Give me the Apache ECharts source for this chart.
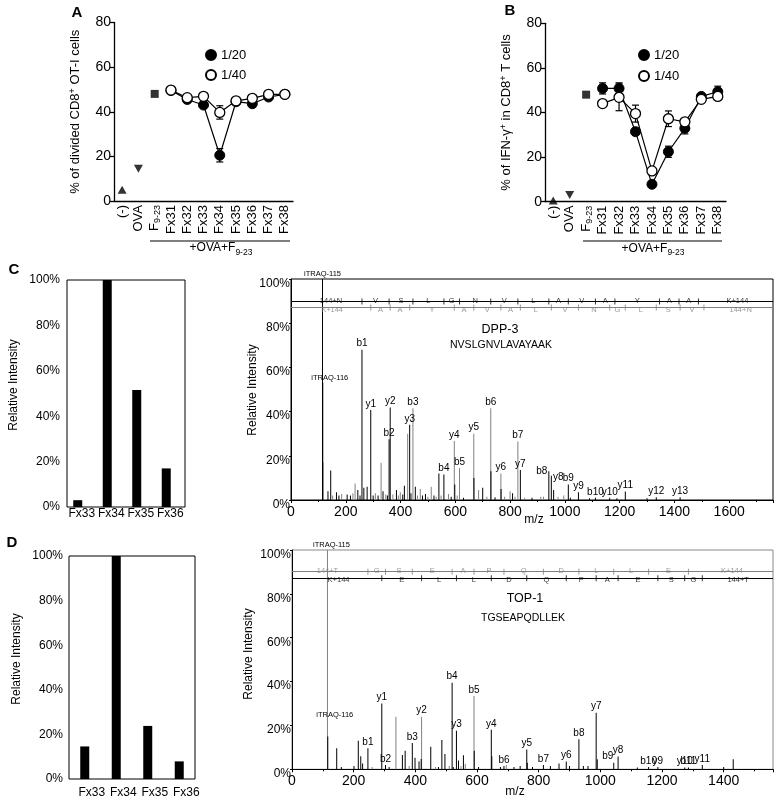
<!DOCTYPE html>
<html><head><meta charset="utf-8">
<script src="https://cdn.jsdelivr.net/npm/echarts@6/dist/echarts.min.js"></script>
<style>html,body{margin:0;padding:0;background:#fff}#c{width:778px;height:805px}</style>
</head><body><div id="c"></div>
<script>
const FONT = '"Liberation Sans", Arial, Helvetica, sans-serif';

// ---------------- Panels A & B data ----------------
const catsAB = ['(-)','OVA','F9-23','Fx31','Fx32','Fx33','Fx34','Fx35','Fx36','Fx37','Fx38'];
const aControls = [5, 14.5, 48];            // (-), OVA, F9-23
const a120    = [null,null,null,49.5,45.5,43.0,20.5,44.5,43.6,46.6,47.8];
const a120Err = [0,0,0,0.8,1.5,0.8,3.0,0.8,0.8,1.2,0.8];
const a140    = [null,null,null,49.7,46.3,46.9,39.7,44.9,46.0,47.8,47.8];
const a140Err = [0,0,0,0.5,0.8,0.5,3.0,0.5,0.8,1.4,0.8];
const bControls = [0.5, 3, 48];
const b120    = [null,null,null,50.8,50.8,31.4,7.8,22.4,32.9,47.2,49.3];
const b120Err = [0,0,0,2.5,2.5,1.5,1.0,2.5,2.5,1.0,2.5];
const b140    = [null,null,null,44.0,46.8,39.5,13.8,37.2,35.8,45.9,47.2];
const b140Err = [0,0,0,1.0,6.0,3.8,1.5,3.5,1.0,1.0,1.0];
const yTicksAB = [0, 80, 20]; // min, max, interval

// ---------------- Fraction bar charts ----------------
const fracCats = ['Fx33','Fx34','Fx35','Fx36'];
const cRel = [3, 100, 51.5, 17];
const dRel = [14.6, 100, 23.8, 7.9];

// ---------------- Spectrum C (DPP-3) ----------------
const cTagName = ['iTRAQ-115','iTRAQ-116'];
const cTagMz   = [115, 116];
const cTagInt  = [100, 53];
const cIonName = ['b1','y1','b2','y2','y3','b3','b4','y4','b5','y5','b6','y6','b7','y7','b8','y8','b9','y9','b10','y10','y11','y12','y13'];
const cIonMz   = [259.1,291.2,358.2,362.2,433.3,445.2,558.3,596.3,615.3,667.4,729.4,766.4,828.4,837.5,941.5,950.6,1012.6,1049.6,1111.6,1163.7,1220.7,1333.8,1420.8];
const cIonInt  = [68,40.7,27.5,41.8,34,41.5,11.5,26.7,14.5,30,41.5,12,26.5,13.6,13,11,7,3.5,1,1,3.8,1.2,1.2];
const cIonCol  = ['k','k','k','k','k','g','k','g','g','g','g','g','g','k','k','k','k','k','k','k','k','k','k'];
const cPeakMz  = [117,135,145,152,166,175,185,205,217,226,234,244,252,266,278,300,308,318,329,336,346,352,372,385,392,399,408,414,426,438,454,462,472,480,491,500,512,522,530,540,548,575,585,598,607,630,668,685,700,715,730,745,767,780,800,809,818,853,880,912,922,959,975,996,1020,1090,1190,1300];
const cPeakInt = [17,4,13.3,2,3.5,2,2.7,2.5,2,3,7.5,4.5,2,5.5,6,2,3,2,16.8,4,2.5,2,2.5,4.5,2,3.5,2.5,6.5,30,3,6,2,5,2,2.7,1.5,6,2,1.5,12,2,2.7,1.5,7,2,1,10,4.5,5.5,1.5,13,1.2,5,1.5,4,3,1.5,1,1,1.5,1.5,4.5,1.5,2,1,0.8,0.8,0.8];
const cPeakCol = ['g','k','k','g','k','k','g','k','k','g','g','k','k','k','k','k','g','k','g','k','g','k','g','k','g','g','k','k','g','k','k','g','g','k','k','g','g','k','g','k','g','g','k','k','g','k','k','g','k','g','k','k','k','g','g','k','g','g','k','g','g','k','g','g','k','k','k','k'];
const cBTicks = [259.1,358.2,445.2,558.3,615.3,729.4,828.4,941.5,1012.6,1111.6,1182.6,1345.7,1416.7,1487.8];
const cTopLetters = ['V','S','L','G','N','V','L','A','V','A','Y','A','A'];
const cYTicks = [291.2,362.2,433.3,596.3,667.4,766.4,837.5,950.6,1049.6,1163.7,1220.7,1333.8,1420.8,1507.8];
const cBottomLetters = ['A','A','Y','A','V','A','L','V','N','G','L','S','V'];
const cTopEnds = ['144+N','K+144'], cTopEndMz = [146,1630];
const cBotEnds = ['K+144','144+N'], cBotEndMz = [150,1642];
const cSeqLevels = [89.8, 87.1];

// ---------------- Spectrum D (TOP-1) ----------------
const dTagName = ['iTRAQ-115','iTRAQ-116'];
const dTagMz   = [115, 116];
const dTagInt  = [100, 15];
const dIonName = ['b1','y1','b2','b3','y2','b4','y3','b5','y4','b6','y5','b7','y6','b8','y7','b9','y8','b10','y9','y10','b11','y11'];
const dIonMz   = [246.2,291.2,303.2,390.2,420.3,519.3,533.3,590.3,646.4,687.4,761.4,815.4,889.5,930.5,986.5,1043.5,1057.6,1156.6,1186.6,1273.7,1285.7,1330.7];
const dIonInt  = [9.6,30,2,12,24,39.5,17.6,33.4,18,1.5,9,2,3.5,13.7,25.8,3,5.8,1,1,0.8,0.8,2];
const dIonCol  = ['k','k','k','k','g','k','k','g','k','k','k','k','k','k','k','k','k','k','k','k','k','k'];
const dPeakMz  = [145,160,201,215,223,229,260,315,337,358,367,380,399,412,419,450,465,475,486,496,510,523,540,548,556,562,591,605,648,676,695,720,740,763,780,838,866,900,945,960,990,1120,1400,1431];
const dPeakInt = [9.6,1,1.5,13,6,2.7,1,1,24,6.5,8.5,1.5,5.3,3.5,4.7,10.3,1,1,13.4,7,1.5,1,4,1.5,6.4,2.5,8.5,1,6,1,2,1,1.5,3,1,1.5,2.7,1.5,1.5,1.5,4.6,0.8,1,4.6];
const dPeakCol = ['k','k','k','k','k','k','g','k','g','k','k','g','k','k','k','k','g','k','k','k','g','k','k','g','k','g','k','k','k','k','g','k','k','k','k','k','k','k','k','k','k','k','k','k'];
const dBTicks = [246.2,303.2,390.2,519.3,590.3,687.4,815.4,930.5,1043.5,1156.6,1285.7];
const dTopLetters = ['G','S','E','A','P','Q','D','L','L','E'];
const dYTicks = [291.2,420.3,533.3,646.4,761.4,889.5,986.5,1057.6,1186.6,1273.7,1330.7];
const dBottomLetters = ['E','L','L','D','Q','P','A','E','S','G'];
const dTopEnds = ['144+T','K+144'], dTopEndMz = [115,1427];
const dBotEnds = ['K+144','144+T'], dBotEndMz = [151,1447];
const dSeqLevels = [90.1, 87.1];

// ---------------- styles (not data) ----------------
const BLACK = '#000', GREY = '#808080';
const colorOf = c => c === 'k' ? BLACK : GREY;
const cLabelOffset = { b8:[-7,6], y8:[7,8], 'iTRAQ-116':[7,0] };
const dLabelOffset = { b9:[-6,0], 'iTRAQ-115':[4,0], 'iTRAQ-116':[7,-16] };

const chart = echarts.init(document.getElementById('c'), null, {renderer:'canvas'});

// equal-height tokens: the subscript / superscript is moved by padding only
const catRich = {
  n:{fontSize:13, fontFamily:FONT, color:'#000', lineHeight:17},
  s:{fontSize:9, fontFamily:FONT, color:'#000', lineHeight:11, padding:[6,0,0,0]}
};
const catLabel = v => v === 'F9-23' ? '{n|F}{s|9-23}' : '{n|' + v + '}';
const nameRich = {
  t:{fontSize:13, fontFamily:FONT, color:'#000', lineHeight:17},
  p:{fontSize:9, fontFamily:FONT, color:'#000', lineHeight:11, padding:[0,0,6,0]}
};

function catAxis(gi){
  return {gridIndex:gi, type:'category', data:catsAB, boundaryGap:true,
    axisLine:{lineStyle:{color:'#000', width:1.3}},
    axisTick:{alignWithLabel:true, length:5, lineStyle:{color:'#000', width:1.3}},
    axisLabel:{rotate:90, margin:4, interval:0, formatter:catLabel, rich:catRich}};
}
function valAxisAB(gi, name){
  return {gridIndex:gi, type:'value', min:yTicksAB[0], max:yTicksAB[1], interval:yTicksAB[2],
    axisLine:{show:true, lineStyle:{color:'#000', width:1.3}},
    axisTick:{show:true, length:4, lineStyle:{color:'#000', width:1.3}},
    splitLine:{show:false},
    axisLabel:{fontSize:14, margin:3, color:'#000', fontFamily:FONT},
    name:name, nameLocation:'middle', nameGap:30, nameRotate:90, nameTextStyle:{rich:nameRich}};
}
function fracXAxis(gi, margin, padLeft){
  return {gridIndex:gi, type:'category', data:fracCats, axisLine:{show:false}, axisTick:{show:false},
    axisLabel:{margin:margin, fontSize:12, color:'#000', fontFamily:FONT, interval:0, padding:[0,0,0,padLeft]}};
}
function fracYAxis(gi, margin){
  return {gridIndex:gi, type:'value', min:0, max:100, interval:20, axisLine:{show:false}, axisTick:{show:false},
    splitLine:{show:false}, axisLabel:{formatter:'{value}%', fontSize:12, margin:margin, color:'#000', fontFamily:FONT}};
}
function specXAxis(gi, max){
  return {gridIndex:gi, type:'value', min:0, max:max, interval:200,
    axisLine:{show:true, onZero:false, lineStyle:{color:'#000', width:1}},
    axisTick:{show:true, length:3, lineStyle:{color:'#000'}},
    minorTick:{show:true, splitNumber:2, length:2, lineStyle:{color:'#000'}},
    splitLine:{show:false},
    axisLabel:{fontSize:14, margin:5, color:'#000', fontFamily:FONT, showMaxLabel:false, formatter:v => String(v)}};
}
function specYAxis(gi){
  return {gridIndex:gi, type:'value', min:0, max:100, interval:20,
    axisLine:{show:true, lineStyle:{color:'#000', width:1}},
    axisTick:{show:true, length:2, lineStyle:{color:'#000'}},
    splitLine:{show:false},
    axisLabel:{formatter:'{value}%', fontSize:12, margin:1, color:'#000', fontFamily:FONT, verticalAlign:'top', lineHeight:9}};
}

function controlSeries(xi, vals){
  return {type:'scatter', xAxisIndex:xi, yAxisIndex:xi, silent:true, z:4, itemStyle:{color:'#000'},
    data:[
      {value:[0, vals[0]], symbol:'triangle', symbolSize:[9,8]},
      {value:[1, vals[1]], symbol:'triangle', symbolRotate:180, symbolSize:[9,8]},
      {value:[2, vals[2]], symbol:'rect', symbolSize:8}
    ]};
}
function errSeries(xi, vals, errs){
  const d = [];
  vals.forEach((v,i) => { if (v != null && errs[i] > 0) d.push([i, v - errs[i], v + errs[i]]); });
  return {type:'custom', xAxisIndex:xi, yAxisIndex:xi, silent:true, z:2, data:d, encode:{x:0, y:[1,2]},
    renderItem:(params, api) => {
      const x = api.value(0);
      const lo = api.coord([x, api.value(1)]), hi = api.coord([x, api.value(2)]);
      const w = 3.5, st = {stroke:'#000', lineWidth:1.2};
      return {type:'group', children:[
        {type:'line', shape:{x1:lo[0], y1:lo[1], x2:hi[0], y2:hi[1]}, style:st},
        {type:'line', shape:{x1:lo[0]-w, y1:lo[1], x2:lo[0]+w, y2:lo[1]}, style:st},
        {type:'line', shape:{x1:hi[0]-w, y1:hi[1], x2:hi[0]+w, y2:hi[1]}, style:st}
      ]};
    }};
}
function doseSeries(xi, name, vals, open){
  return {type:'line', name:name, xAxisIndex:xi, yAxisIndex:xi, data:vals, symbol:'circle', symbolSize:10,
    showSymbol:true, silent:true, z: open ? 4 : 3,
    itemStyle: open ? {color:'#fff', borderColor:'#000', borderWidth:1.3} : {color:'#000', borderColor:'#000', borderWidth:1},
    lineStyle:{color:'#000', width:1.2}};
}
function fracSeries(xi, vals, shiftGap){
  const main = {type:'bar', xAxisIndex:xi, yAxisIndex:xi, data:vals, barWidth:9, barGap:shiftGap, itemStyle:{color:'#000'}, silent:true};
  if (shiftGap == null) return [main];
  // an empty companion series only used to nudge the visible bars left inside each band
  return [main, {type:'bar', xAxisIndex:xi, yAxisIndex:xi, data:vals.map(() => null), barWidth:9, barGap:shiftGap, silent:true}];
}

function peakSeries(xi, colKey, tags, ions, others, offsets){
  const data = [];
  others.mz.forEach((m,i) => { if (others.col[i] === colKey) data.push({value:[m, others.h[i]]}); });
  ions.mz.forEach((m,i) => {
    if (ions.col[i] === colKey) data.push({value:[m, ions.h[i]], name:ions.n[i],
      label:{show:true, offset: offsets[ions.n[i]] || [0,0]}});
  });
  if (colKey === tags.col) {
    tags.mz.forEach((m,i) => data.push({value:[m, tags.h[i]], name:tags.n[i],
      label:{show:true, fontSize:7.5, offset: offsets[tags.n[i]] || [0,0]}}));
  }
  return {type:'bar', xAxisIndex:xi, yAxisIndex:xi, data:data, barWidth:1, barGap:'-100%', silent:true,
    itemStyle:{color:colorOf(colKey)}, z: colKey === 'k' ? 3 : 2,
    label:{show:false, position:'top', distance:1, fontSize:10, color:'#000', fontFamily:FONT, formatter:'{b}'}};
}

function seqSeries(xi, level, ticks, letters, ends, endMz, color, dy){
  const items = letters.map((L,i) => ({value:[(ticks[i] + ticks[i+1]) / 2, level], name:L}));
  ends.forEach((t,i) => items.push({value:[endMz[i], level], name:t}));
  return [
    {type:'scatter', xAxisIndex:xi, yAxisIndex:xi, data:ticks.map(t => [t, level]), symbol:'rect',
      symbolSize:[1,6], itemStyle:{color:color}, silent:true, z:5,
      markLine:{silent:true, symbol:'none', animation:false, data:[{yAxis:level}],
        lineStyle:{color:color, width:1, type:'solid'}, label:{show:false}}},
    {type:'scatter', xAxisIndex:xi, yAxisIndex:xi, data:items, symbol:'circle', symbolSize:1,
      itemStyle:{color:'transparent'}, silent:true, z:6,
      label:{show:true, position:'inside', formatter:'{b}', fontSize:7.5, color:color, fontFamily:FONT, offset:[0,dy]}}
  ];
}

function T(text, x, y, size, o){
  o = o || {};
  return {type:'text', x:x, y:y, rotation:o.rot || 0, silent:true,
    style:{text:text, fill:'#000', font:(o.bold ? 'bold ' : '') + size + 'px ' + FONT,
      align:'center', verticalAlign:'middle', textAlign:'center', textVerticalAlign:'middle', rich:o.rich}};
}
const subRich = {
  t:{fontSize:12, fontFamily:FONT, color:'#000', lineHeight:15, verticalAlign:'top'},
  s:{fontSize:8.5, fontFamily:FONT, color:'#000', lineHeight:9, verticalAlign:'bottom'}
};

const cIons = {n:cIonName, mz:cIonMz, h:cIonInt, col:cIonCol};
const cOthers = {mz:cPeakMz, h:cPeakInt, col:cPeakCol};
const cTags = {n:cTagName, mz:cTagMz, h:cTagInt, col:'k'};
const dIons = {n:dIonName, mz:dIonMz, h:dIonInt, col:dIonCol};
const dOthers = {mz:dPeakMz, h:dPeakInt, col:dPeakCol};

const option = {
  animation:false,
  backgroundColor:'#fff',
  textStyle:{fontFamily:FONT},
  grid:[
    {left:114, top:22.5, width:179, height:178.5, outerBoundsMode:'none'},
    {left:545, top:23.3, width:181, height:178.4, outerBoundsMode:'none'},
    {left:67, top:280, width:118, height:227, show:true, borderColor:'#000', borderWidth:1, outerBoundsMode:'none'},
    {left:291, top:279, width:482, height:221, show:true, borderColor:'#000', borderWidth:1, outerBoundsMode:'none'},
    {left:69, top:556, width:126, height:223, show:true, borderColor:'#000', borderWidth:1, outerBoundsMode:'none'},
    {left:292, top:550, width:481, height:219.3, show:true, borderColor:'#888', borderWidth:1, outerBoundsMode:'none'}
  ],
  xAxis:[catAxis(0), catAxis(1), fracXAxis(2, 1, 0), specXAxis(3, 1760), fracXAxis(4, 8, 14), specXAxis(5, 1560)],
  yAxis:[
    valAxisAB(0, '{t|% of divided CD8}{p|+}{t| OT-I cells}'),
    valAxisAB(1, '{t|% of IFN-γ}{p|+}{t| in CD8}{p|+}{t| T cells}'),
    fracYAxis(2, 7), specYAxis(3), fracYAxis(4, 6), specYAxis(5)
  ],
  legend:[
    {data:['1/20','1/40'], orient:'vertical', left:205, top:48.5, padding:0, itemWidth:10, itemHeight:10, itemGap:7,
      icon:'circle', selectedMode:false, textStyle:{fontSize:13, color:'#000', fontFamily:FONT}},
    {data:['1/20','1/40'], orient:'vertical', left:638, top:48.5, padding:0, itemWidth:10, itemHeight:10, itemGap:8,
      icon:'circle', selectedMode:false, textStyle:{fontSize:13, color:'#000', fontFamily:FONT}}
  ],
  series:[
    errSeries(0, a120, a120Err), errSeries(0, a140, a140Err),
    doseSeries(0, '1/20', a120, false), doseSeries(0, '1/40', a140, true), controlSeries(0, aControls),
    errSeries(1, b120, b120Err), errSeries(1, b140, b140Err),
    doseSeries(1, '1/20', b120, false), doseSeries(1, '1/40', b140, true), controlSeries(1, bControls),
    ...fracSeries(2, cRel, '-11%'), ...fracSeries(4, dRel, null),
    peakSeries(3, 'g', cTags, cIons, cOthers, cLabelOffset),
    peakSeries(3, 'k', cTags, cIons, cOthers, cLabelOffset),
    ...seqSeries(3, cSeqLevels[0], cBTicks, cTopLetters, cTopEnds, cTopEndMz, BLACK, -1),
    ...seqSeries(3, cSeqLevels[1], cYTicks, cBottomLetters, cBotEnds, cBotEndMz, GREY, 2),
    peakSeries(5, 'g', {n:[dTagName[0]], mz:[dTagMz[0]], h:[dTagInt[0]], col:'g'}, dIons, dOthers, dLabelOffset),
    peakSeries(5, 'k', {n:[dTagName[1]], mz:[dTagMz[1]], h:[dTagInt[1]], col:'k'}, dIons, dOthers, dLabelOffset),
    ...seqSeries(5, dSeqLevels[0], dBTicks, dTopLetters, dTopEnds, dTopEndMz, GREY, -1),
    ...seqSeries(5, dSeqLevels[1], dYTicks, dBottomLetters, dBotEnds, dBotEndMz, BLACK, 2)
  ],
  graphic:[
    T('A', 77, 12.5, 15, {bold:true}),
    T('B', 510, 10.5, 15, {bold:true}),
    T('C', 14, 270, 15, {bold:true}),
    T('D', 12, 543, 15, {bold:true}),
    {type:'line', silent:true, shape:{x1:150, y1:241, x2:290, y2:241}, style:{stroke:'#000', lineWidth:1.2}},
    {type:'line', silent:true, shape:{x1:583, y1:241, x2:722, y2:241}, style:{stroke:'#000', lineWidth:1.2}},
    T('{t|+OVA+F}{s|9-23}', 221, 249.5, 12, {rich:subRich}),
    T('{t|+OVA+F}{s|9-23}', 653, 250, 12, {rich:subRich}),
    T('Relative Intensity', 14, 385, 12, {rot:Math.PI/2}),
    T('Relative Intensity', 253, 390, 12, {rot:Math.PI/2}),
    T('Relative Intensity', 17, 659, 12, {rot:Math.PI/2}),
    T('Relative Intensity', 249, 654, 12, {rot:Math.PI/2}),
    T('DPP-3', 500, 330, 12.5),
    T('NVSLGNVLAVAYAAK', 501, 345, 10.5),
    T('TOP-1', 525, 599, 12.5),
    T('TGSEAPQDLLEK', 523, 618, 10.5),
    T('m/z', 534, 520, 12),
    T('m/z', 515, 792, 12)
  ]
};
chart.setOption(option);
</script></body></html>
